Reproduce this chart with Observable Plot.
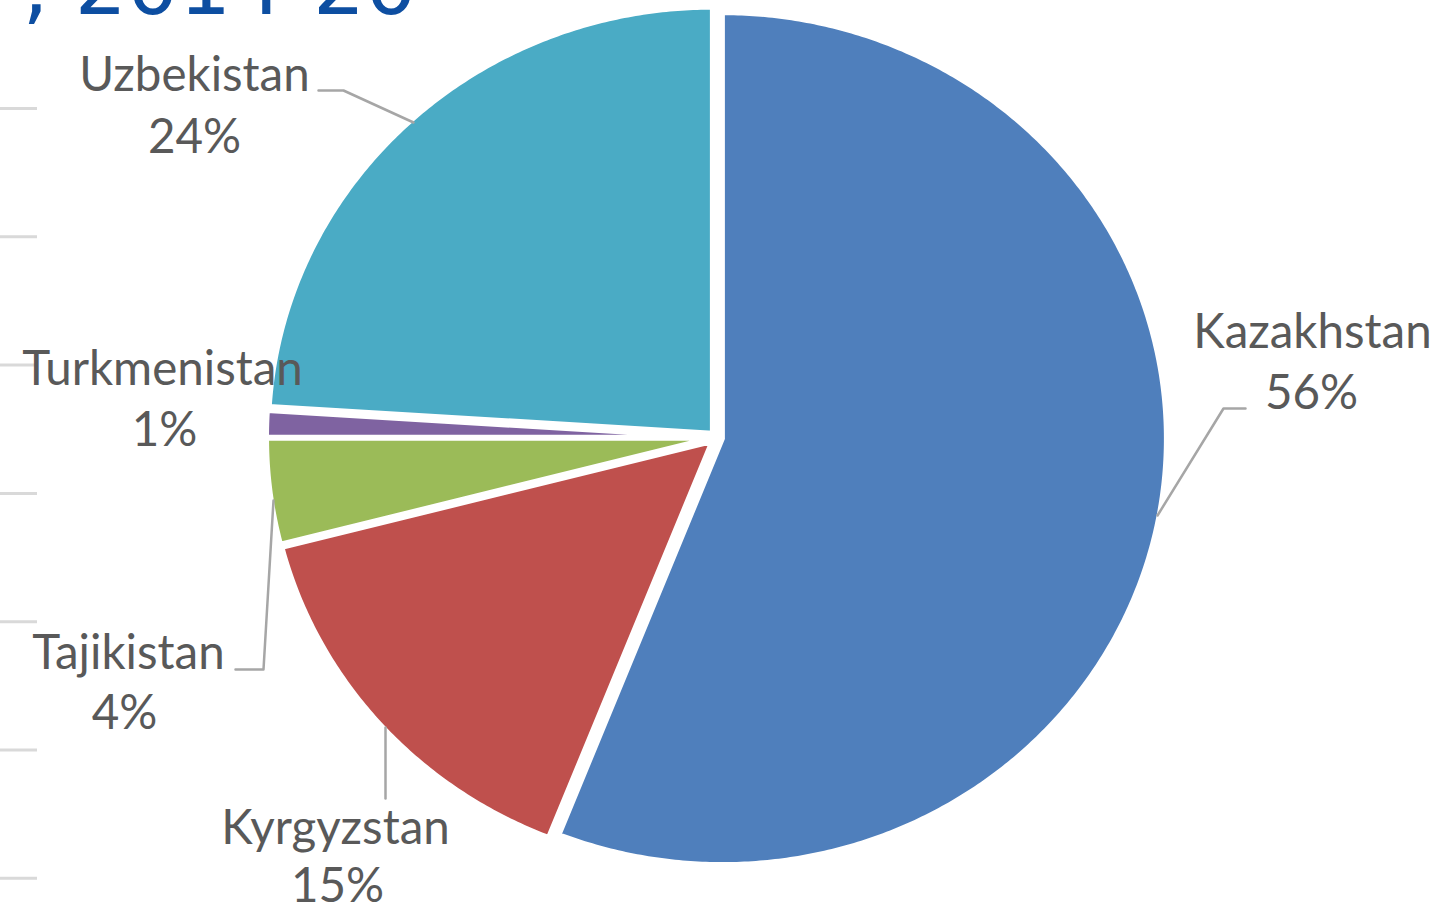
<!DOCTYPE html>
<html><head><meta charset="utf-8">
<script src="https://cdn.jsdelivr.net/npm/d3@7"></script>
<script src="https://cdn.jsdelivr.net/npm/@observablehq/plot@0.6"></script>
<style>
html,body{margin:0;padding:0;background:#fff;overflow:hidden;}
#chart{position:relative;width:1444px;height:910px;}
</style></head><body><div id="chart"></div>
<script>
// ---- data ----
const countries = ["Kazakhstan", "Kyrgyzstan", "Tajikistan", "Turkmenistan", "Uzbekistan"];
const shares = [56, 15, 4, 1, 24];
const colors = ["#4F7FBC", "#BF504D", "#9BBB58", "#7F63A1", "#4AABC5"];
const titleText = ", 2014-20";
const gridTicks = [0, 1, 2, 3, 4, 5, 6]; // edge of neighbouring chart's gridlines

// ---- layout (pixels) ----
const W = 1444, H = 910, CX = 716, CY = 437, RX = 444, RY = 426, EXPLODE = 6;
const toX = px => (px - CX) / RX;
const toY = py => (CY - py) / RY;
const FS = 47.5;
const nameAt = {Kazakhstan:[1312,347], Kyrgyzstan:[335,843], Tajikistan:[128,668], Turkmenistan:[162,384], Uzbekistan:[194,90]};
const pctAt  = {Kazakhstan:[1311,408], Kyrgyzstan:[337,901], Tajikistan:[124,728], Turkmenistan:[164,445], Uzbekistan:[194,152]};
const leaders = {
  Kazakhstan: [[1245,408],[1223,408],[1157,515]],
  Kyrgyzstan: [[385,727],[385,798]],
  Tajikistan: [[235,669],[263,669],[273,500]],
  Uzbekistan: [[318,90],[343,90],[413,122]]
};

// ---- build slice polygons from the shares ----
const total = d3.sum(shares);
let acc = 0;
const slices = countries.map((c, i) => {
  const a0 = acc / total * 2 * Math.PI; acc += shares[i];
  const a1 = acc / total * 2 * Math.PI;
  const am = (a0 + a1) / 2;
  const ox = EXPLODE / RX * Math.sin(am), oy = EXPLODE / RY * Math.cos(am);
  const pts = [{x: ox, y: oy}];
  const n = Math.max(4, Math.ceil((a1 - a0) / (Math.PI / 360)));
  for (let k = 0; k <= n; k++) {
    const a = a0 + (a1 - a0) * k / n;
    pts.push({x: ox + Math.sin(a), y: oy + Math.cos(a)});
  }
  pts.push({x: ox, y: oy});
  return {c, color: colors[i], pts};
});

const labels = countries.map((c, i) => ({c, share: shares[i]}));
const leaderPts = Object.entries(leaders).flatMap(([c, arr]) => arr.map(p => ({c, x: toX(p[0]), y: toY(p[1])})));

const chart = Plot.plot({
  width: W, height: H, margin: 0,
  style: {fontFamily: "Lato, sans-serif", background: "#fff"},
  x: {domain: [toX(0), toX(W)], axis: null},
  y: {domain: [toY(H), toY(0)], axis: null},
  marks: [
    Plot.ruleY(gridTicks, {y: d => toY(108 + d * 128.3), x1: toX(0), x2: toX(37), stroke: "#d9d9d9", strokeWidth: 3}),
    ...slices.map(s => Plot.line(s.pts, {x: "x", y: "y", fill: s.color, stroke: "white", strokeWidth: 5, strokeLinejoin: "round"})),
    Plot.line(leaderPts, {x: "x", y: "y", z: "c", stroke: "#a6a6a6", strokeWidth: 2.5}),
    Plot.text(labels, {x: d => toX(nameAt[d.c][0]), y: d => toY(nameAt[d.c][1] - 0.32 * FS), text: d => d.c, fontSize: FS, fill: "#595959", textAnchor: "middle"}),
    Plot.text(labels, {x: d => toX(pctAt[d.c][0]), y: d => toY(pctAt[d.c][1] - 0.32 * FS), text: d => d.share + "%", fontSize: FS, fill: "#595959", textAnchor: "middle"}),
    Plot.text([titleText], {x: toX(22), y: toY(13 - 0.32 * 82), text: d => d, fontSize: 82, fill: "#0D4EA1", textAnchor: "start", fontFamily: "DejaVu Sans"})
  ]
});
document.getElementById("chart").appendChild(chart);
</script></body></html>
